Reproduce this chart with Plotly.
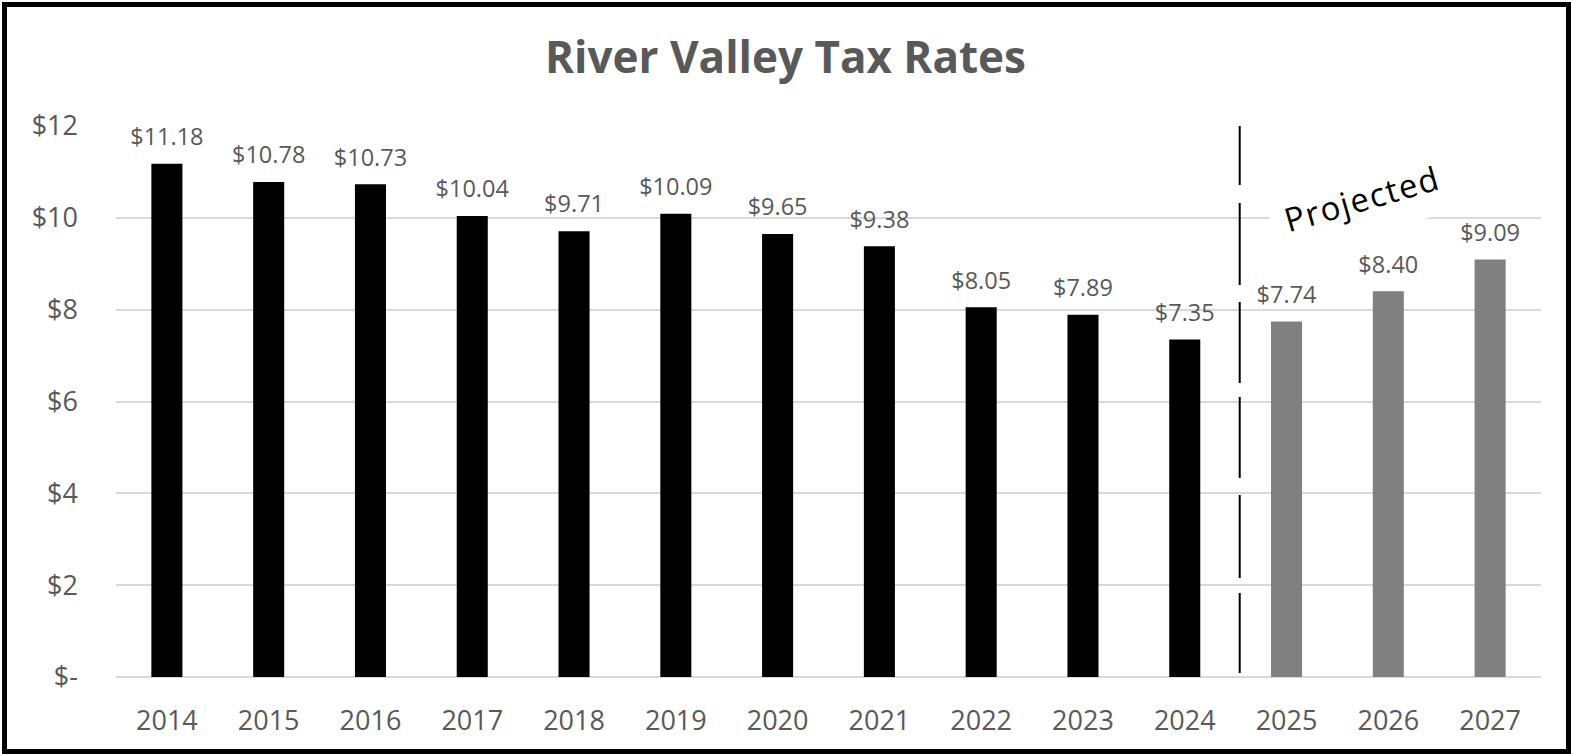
import plotly.graph_objects as go

# ---- data ----
actual_years = ["2014", "2015", "2016", "2017", "2018", "2019", "2020", "2021", "2022", "2023", "2024"]
actual_values = [11.18, 10.78, 10.73, 10.04, 9.71, 10.09, 9.65, 9.38, 8.05, 7.89, 7.35]
projected_years = ["2025", "2026", "2027"]
projected_values = [7.74, 8.40, 9.09]
y_tick_values = [0, 2, 4, 6, 8, 10, 12]
y_tick_labels = ["$-", "$2", "$4", "$6", "$8", "$10", "$12"]

FONT = "Open Sans"
GREY_TEXT = "#595959"

W, H = 1571, 754
ML, MR, MT, MB = 116, 30, 126, 77
PW, PH = W - ML - MR, H - MT - MB

all_years = actual_years + projected_years

fig = go.Figure()
fig.add_trace(go.Bar(x=actual_years, y=actual_values, marker=dict(color="#000000", line=dict(width=0)),
                     width=0.305, hoverinfo="x+y", name="Actual"))
fig.add_trace(go.Bar(x=projected_years, y=projected_values, marker=dict(color="#808080", line=dict(width=0)),
                     width=0.305, hoverinfo="x+y", name="Projected"))

# data labels (invisible markers give the label offset above the bar tops)
for xs, ys in ((actual_years, actual_values), (projected_years, projected_values)):
    fig.add_trace(go.Scatter(
        x=xs, y=ys, mode="markers+text",
        text=[f"${v:.2f}" for v in ys],
        textposition="top center",
        textfont=dict(family=FONT, size=23.5, color=GREY_TEXT),
        marker=dict(size=19, color="rgba(0,0,0,0)"),
        hoverinfo="skip", cliponaxis=False, showlegend=False))

# projection divider
fig.add_shape(type="line", xref="x", yref="y", x0=10.54, x1=10.54, y0=12, y1=0.08,
              line=dict(color="#000000", width=2,
                        dash="59px,18px,82px,17px,81px,14px,81px,17px,83px,15px,80px,40px"))

# outer frame
def px_to_paper_x(px):
    return (px - ML) / PW

def px_to_paper_y(py):
    return (H - MB - py) / PH

fig.add_shape(type="rect", xref="paper", yref="paper",
              x0=px_to_paper_x(4.5), x1=px_to_paper_x(1568.5),
              y0=px_to_paper_y(751.5), y1=px_to_paper_y(4.5),
              line=dict(color="#000000", width=5), fillcolor="rgba(0,0,0,0)", layer="above")

fig.add_annotation(x=11.74, y=10.42, xref="x", yref="y",
                   text='<span style="letter-spacing:1.5px">Projected</span>',
                   showarrow=False, textangle=-16,
                   font=dict(family=FONT, size=33, color="#000000"),
                   bgcolor="#ffffff", borderpad=14)

fig.update_layout(
    width=W, height=H,
    margin=dict(l=ML, r=MR, t=MT, b=MB, autoexpand=False),
    paper_bgcolor="#ffffff", plot_bgcolor="#ffffff",
    barmode="overlay", showlegend=False,
    title=dict(text="<b>River Valley Tax Rates</b>", x=0.5, xanchor="center",
               y=1 - 57.6 / H, yanchor="middle", yref="container",
               font=dict(family=FONT, size=44, color=GREY_TEXT)),
    xaxis=dict(type="category", categoryorder="array", categoryarray=all_years,
               range=[-0.5, len(all_years) - 0.5],
               showgrid=False, showline=False, zeroline=False, ticks="",
               tickfont=dict(family=FONT, size=27, color=GREY_TEXT),
               ticklabelstandoff=25),
    yaxis=dict(range=[0, 12], tickvals=y_tick_values, ticktext=y_tick_labels,
               showgrid=True, gridcolor="#d9d9d9", gridwidth=1.5,
               zeroline=True, zerolinecolor="#d9d9d9", zerolinewidth=1.5,
               showline=False, ticks="",
               tickfont=dict(family=FONT, size=27, color=GREY_TEXT),
               ticklabelstandoff=37),
)

fig.write_html("out.html", config={"displayModeBar": False},
               post_script="document.body.style.margin='0';document.body.style.overflow='hidden';")
